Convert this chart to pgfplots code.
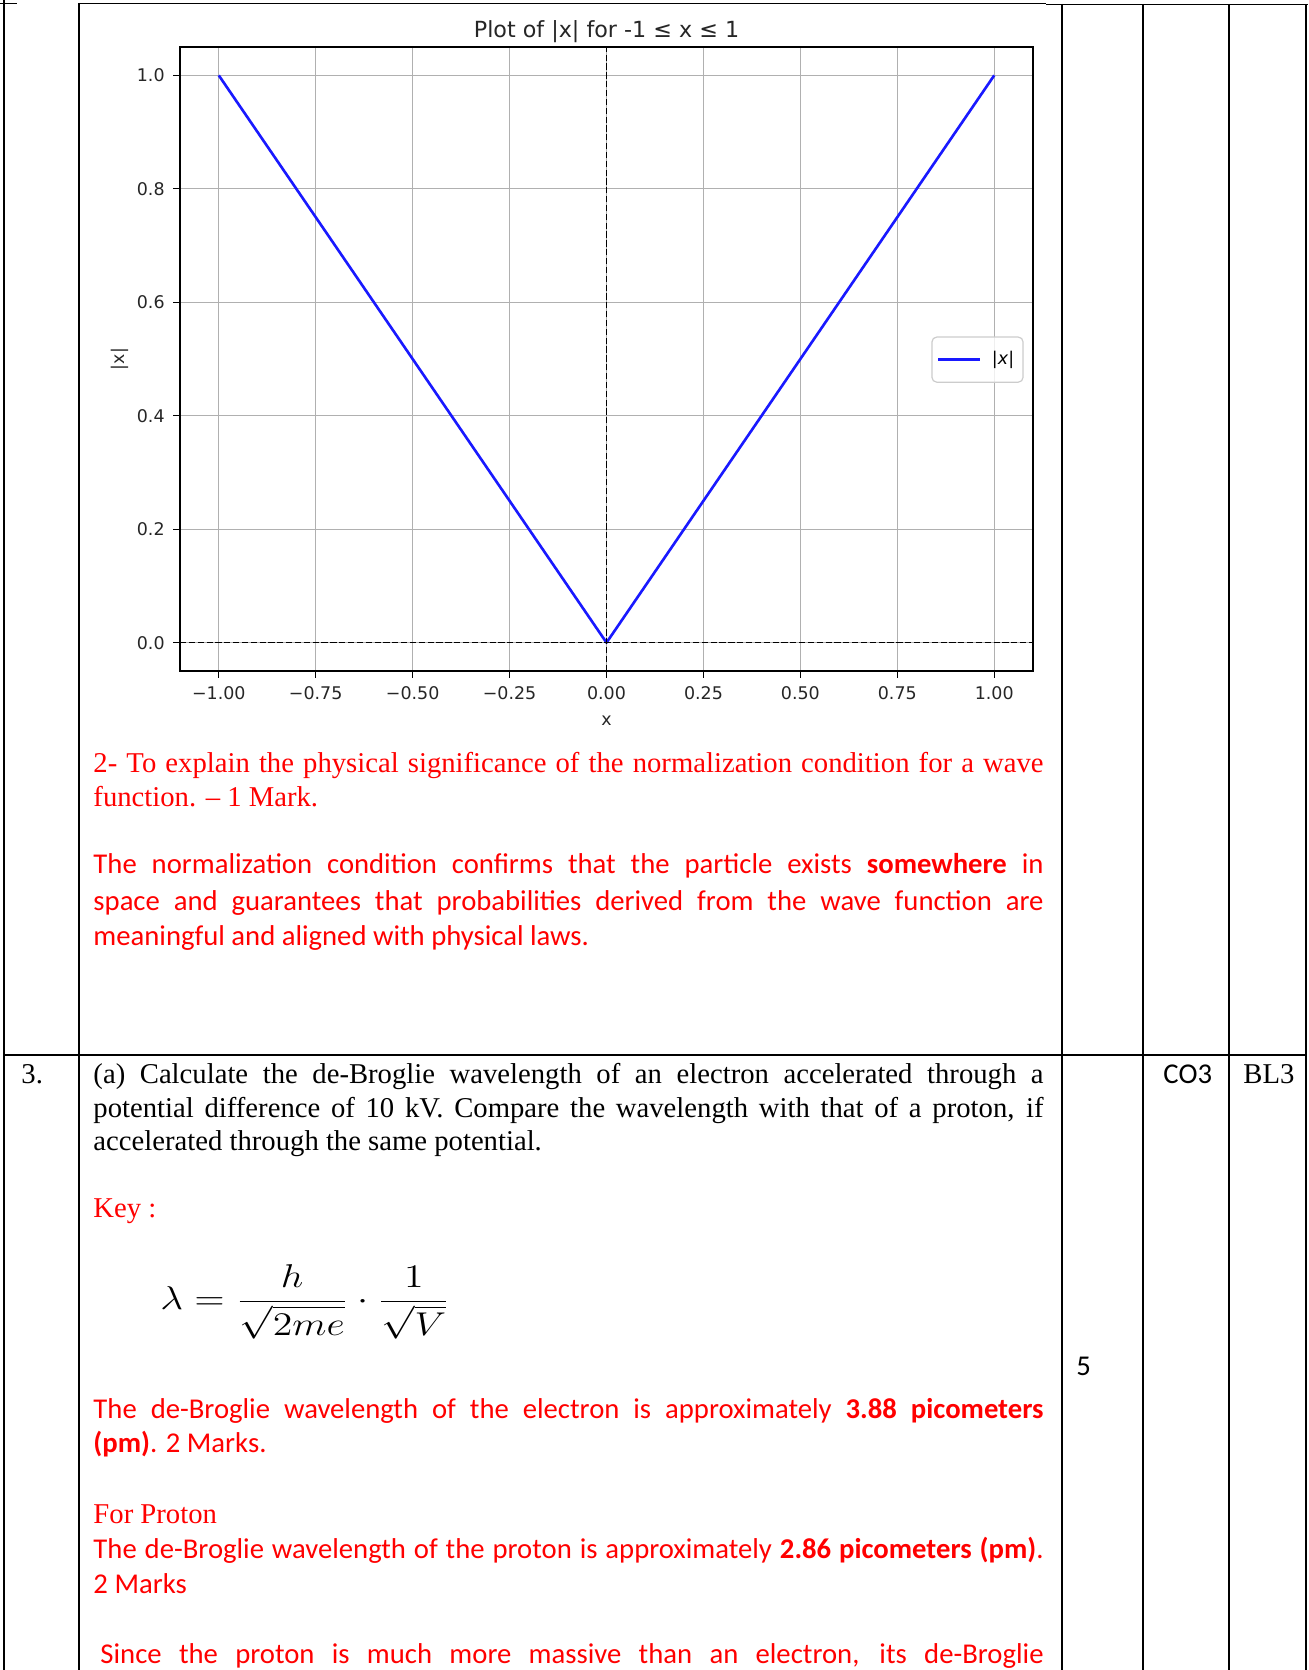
\documentclass[border=0pt]{standalone}
\usepackage[no-math]{fontspec}
\usepackage{graphicx}
\usepackage{pgfplots}
\pgfplotsset{compat=1.18}
\setmainfont{Liberation Serif}
\newfontfamily\calibri{Carlito}
\newfontfamily\plotfont{DejaVu Sans}
\definecolor{lineblue}{RGB}{25,25,255}
\definecolor{gridgray}{RGB}{176,176,176}
\newcommand\tnr{\rmfamily\fontsize{12}{14}\selectfont}
\newcommand\cbr{\calibri\fontsize{12}{14}\selectfont}
\newcommand\tickfont{\plotfont\fontsize{7.3}{8.8}\selectfont}
\newcommand\titlefont{\plotfont\fontsize{9.3}{11}\selectfont}
% a justified line of given width
\newcommand\jline[2]{\makebox[#1][s]{#2}}
\begin{document}
\begin{tikzpicture}
\begin{scope}[x=0.4184pt,y=-0.4184pt]
\path[use as bounding box] (0,0) rectangle (1308,1670);
% table rules
\begin{scope}[line width=0.8pt]
\draw (0,3.5) -- (17,3.5);
\draw (79,3.5) -- (1046,3.5);
\draw (1046,4.5) -- (1308,4.5);
\draw (4,0) -- (4,1670);
\draw (79,3) -- (79,1670);
\draw (1062,4) -- (1062,1670);
\draw (1143,4) -- (1143,1670);
\draw (1229,4) -- (1229,1670);
\draw (1306,4) -- (1306,1670);
\draw (3,1055) -- (1307,1055);
\end{scope}
% row 2, part 2
\begin{scope}[every node/.style={anchor=base west, inner sep=0pt, text=red}]
\node[font=\tnr] at (93,772) {\jline{397.5pt}{2- To explain the physical significance of the normalization condition for a wave}};
\node[font=\tnr] at (93,806) {function. – 1 Mark.};
\node[font=\cbr] at (93,873) {\jline{397.5pt}{The normalization condition confirms that the particle exists \textbf{somewhere} in}};
\node[font=\cbr] at (93,910) {\jline{397.5pt}{space and guarantees that probabilities derived from the wave function are}};
\node[font=\cbr] at (93,945) {meaningful and aligned with physical laws.};
\end{scope}
% row 3
\begin{scope}[every node/.style={anchor=base west, inner sep=0pt}]
\node[font=\tnr] at (21,1083) {3.};
\node[font=\tnr] at (93,1083) {\jline{397.5pt}{(a) Calculate the de-Broglie wavelength of an electron accelerated through a}};
\node[font=\tnr] at (93,1117) {\jline{397.5pt}{potential difference of 10 kV. Compare the wavelength with that of a proton, if}};
\node[font=\tnr] at (93,1150) {accelerated through the same potential.};
\node[font=\tnr, text=red] at (93,1217) {Key :};
\node[font=\cbr] at (1163,1083) {CO3};
\node[font=\tnr] at (1243,1083) {BL3};
\node[font=\cbr] at (1076,1375) {5};
\node[font=\cbr, text=red] at (93,1418) {\jline{397.5pt}{The de-Broglie wavelength of the electron is approximately \textbf{3.88 picometers}}};
\node[font=\cbr, text=red] at (93,1452) {\textbf{(pm)}. 2 Marks.};
\node[font=\tnr, text=red] at (93,1523) {For Proton};
\node[font=\cbr, text=red] at (93,1558) {\jline{397.5pt}{The de-Broglie wavelength of the proton is approximately \textbf{2.86 picometers (pm)}.}};
\node[font=\cbr, text=red] at (93,1593) {2 Marks};
\node[font=\cbr, text=red] at (100,1663) {\jline{394.6pt}{Since the proton is much more massive than an electron, its de-Broglie}};
\end{scope}
\node[anchor=west, inner sep=0pt, font=\tnr] at (160,1302)
  {\scalebox{1.39}[1.15]{$\displaystyle \lambda = \frac{h}{\sqrt{2me}}\cdot\frac{1}{\sqrt{V}}$}};
\end{scope}
\begin{axis}[
  at={(75.31pt,-280.75pt)}, anchor=south west,
  scale only axis, width=356.9pt, height=261.1pt,
  xmin=-1.1, xmax=1.1, ymin=-0.05, ymax=1.05,
  xtick={-1,-0.75,-0.5,-0.25,0,0.25,0.5,0.75,1},
  xticklabels={−1.00,−0.75,−0.50,−0.25,0.00,0.25,0.50,0.75,1.00},
  ytick={0,0.2,0.4,0.6,0.8,1},
  yticklabels={0.0,0.2,0.4,0.6,0.8,1.0},
  tick pos=left, tick align=outside, major tick length=2.9pt,
  tick style={black, line width=0.5pt},
  ticklabel style={font=\tickfont, text=black!85},
  grid=major, major grid style={gridgray, line width=0.45pt},
  axis line style={black, line width=0.6pt},
  every axis title shift=0pt,
  title={Plot of |x| for -1 ≤ x ≤ 1},
  title style={font=\titlefont, text=black!85, at={(axis description cs:0.5,1)}, anchor=base, yshift=3.9pt},
  xlabel={x},
  xlabel style={font=\tickfont, text=black!85, at={(axis description cs:0.5,0)}, anchor=base, yshift=-22.6pt},
  ylabel={|x|},
  ylabel style={font=\tickfont, text=black!85, at={([xshift=-25pt]axis description cs:0,0.5)}, anchor=center},
  legend style={at={(axis description cs:0.989,0.499)}, anchor=east, draw=black!20, line width=0.5pt,
    rounded corners=2pt, fill=white, fill opacity=0.8, draw opacity=1, text opacity=1,
    inner xsep=2pt, inner ysep=4.2pt, font=\tickfont, nodes={inner sep=1.7pt},
    /tikz/every odd column/.append style={column sep=2.7pt}},
]
\addplot[lineblue, line width=1.1pt, line join=round,
  legend image code/.code={\draw[lineblue, line width=1.1pt] (0pt,0pt) -- (17.6pt,0pt);}]
  coordinates {(-1,1) (0,0) (1,1)};
\addlegendentry{|\textit{x}|\hspace{1pt}}
\addplot[black, line width=0.45pt, dash pattern=on 2.6pt off 1.1pt, forget plot] coordinates {(-1.1,0) (1.1,0)};
\addplot[black, line width=0.45pt, dash pattern=on 2.6pt off 1.1pt, forget plot] coordinates {(0,-0.05) (0,1.05)};
\end{axis}
\end{tikzpicture}
\end{document}
